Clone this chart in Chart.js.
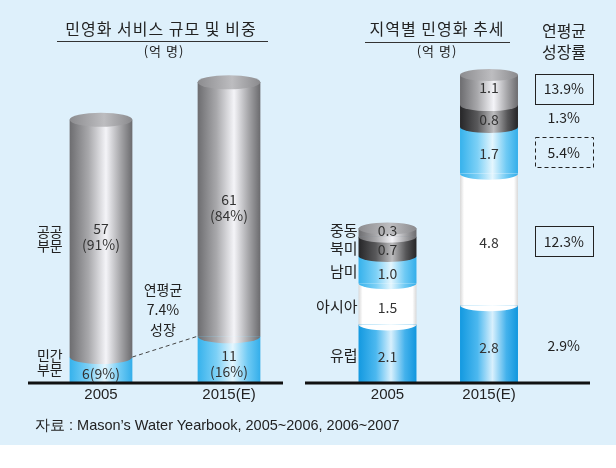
<!DOCTYPE html>
<html>
<head>
<meta charset="utf-8">
<script src="https://cdn.jsdelivr.net/npm/chart.js@4.4.1/dist/chart.umd.min.js"></script>
<style>
  body { margin: 0; background: #fff; }
  #wrap { position: relative; width: 616px; height: 445px; background: #def0fb; overflow: hidden; }
  canvas { position: absolute; top: 0; }
  #c1 { left: 0; }
  #c2 { left: 300px; }
  .t { position: absolute; font-family: "Noto Sans CJK KR", sans-serif; color: #222; text-align: center; white-space: nowrap; }
  .rule { position: absolute; height: 1px; background: #333; }
</style>
</head>
<body>
<div id="wrap">
  <canvas id="c1" width="300" height="445"></canvas>
  <canvas id="c2" width="316" height="445"></canvas>

  <div class="t" style="left:30px;top:18px;width:262px;font-size:16px;line-height:20px;letter-spacing:1px;">민영화 서비스 규모 및 비중</div>
  <div class="rule" style="left:57px;top:41px;width:211px;"></div>
  <div class="t" style="left:124px;top:42px;width:80px;font-size:13px;line-height:18px;letter-spacing:1px;">(억 명)</div>

  <div class="t" style="left:352px;top:18px;width:170px;font-size:16px;line-height:20px;letter-spacing:1px;">지역별 민영화 추세</div>
  <div class="rule" style="left:365px;top:42px;width:145px;"></div>
  <div class="t" style="left:397px;top:42px;width:80px;font-size:13px;line-height:18px;letter-spacing:1px;">(억 명)</div>

  <div class="t" style="left:524px;top:20px;width:80px;font-size:16px;line-height:21px;">연평균<br>성장률</div>

  <div class="t" style="left:123px;top:279px;width:80px;font-size:14px;line-height:20px;">연평균<br>7.4%<br>성장</div>

  <div class="t" style="left:35px;top:415px;text-align:left;font-family:'Liberation Sans',Arial,sans-serif;font-size:14.5px;line-height:20px;">자료 : Mason’s Water Yearbook, 2005~2006, 2006~2007</div>
</div>

<script>
// --- DATA --- //
// 민영화 서비스 규모 및 비중 (억 명)
const sizeYears = ["2005", "2015(E)"];
const privateValues = [6, 11];
const publicValues = [57, 61];
const privateShare = ["9%", "16%"];
const publicShare = ["91%", "84%"];

// 지역별 민영화 추세 (억 명)
const regionYears = ["2005", "2015(E)"];
const europe = [2.1, 2.8];
const asia = [1.5, 4.8];
const southAmerica = [1.0, 1.7];
const northAmerica = [0.7, 0.8];
const middleEast = [0.3, 1.1];
// 연평균 성장률, same order as the stack (bottom -> top)
const regionGrowth = ["2.9%", "12.3%", "5.4%", "1.3%", "13.9%"];
const regionGrowthBox = ["none", "solid", "dashed", "none", "solid"];

// --- COLOURS --- //
const palettes = {
  gray: [[0, "#6d6d70"], [0.3, "#a8a8ab"], [0.58, "#f4f4f8"], [0.82, "#a3a3a6"], [1, "#6b6b6e"]],
  lightBlue: [[0, "#36b2ec"], [0.3, "#7cd0f6"], [0.56, "#e4f6fe"], [0.8, "#6fcaf4"], [1, "#33aeea"]],
  blue: [[0, "#1399e0"], [0.3, "#4cb8ef"], [0.56, "#d8f0fd"], [0.8, "#44b2ec"], [1, "#1196de"]],
  dark: [[0, "#262628"], [0.3, "#59595b"], [0.58, "#bdbdbf"], [0.82, "#565658"], [1, "#242426"]],
  white: [[0, "#d8d8d8"], [0.07, "#ffffff"], [0.93, "#ffffff"], [1, "#d8d8d8"]],
  cap: [[0, "#8c8c8f"], [0.55, "#bdbdc0"], [1, "#8a8a8d"]],
};

function gradient(c, pal, x, hw) {
  const g = c.createLinearGradient(x - hw, 0, x + hw, 0);
  palettes[pal].forEach(([o, col]) => g.addColorStop(o, col));
  return g;
}

// scriptable fill: horizontal gradient across each bar
function barFill(pal) {
  return (ctx) => {
    const chart = ctx.chart;
    if (!chart.chartArea) return "#999";
    const x = chart.scales.x.getPixelForValue(ctx.dataIndex);
    const hw = (chart.chartArea.width / chart.data.labels.length) * chart.options.datasets.bar.barPercentage / 2;
    return gradient(chart.ctx, pal, x, hw);
  };
}

// --- PLUGINS --- //
// draws cylinder caps / segment arcs, the baseline and the in-bar values
const cylinders = {
  id: "cyl",
  afterDatasetsDraw(chart, args, opts) {
    const c = chart.ctx;
    const area = chart.chartArea;
    const sets = chart.data.datasets;
    const n = sets.length;

    chart.data.labels.forEach((lab, i) => {
      for (let d = 0; d < n; d++) {
        const el = chart.getDatasetMeta(d).data[i];
        const rx = el.width / 2;
        c.save();
        c.beginPath();
        if (d < n - 1) {
          c.ellipse(el.x, el.y, rx, opts.ry, 0, 0, Math.PI);
          c.fillStyle = gradient(c, sets[d + 1].pal, el.x, rx);
        } else {
          c.ellipse(el.x, el.y, rx, opts.ry, 0, 0, Math.PI * 2);
          c.fillStyle = gradient(c, "cap", el.x, rx);
        }
        c.fill();
        c.restore();
      }
    });

    // baseline
    c.save();
    c.strokeStyle = "#111";
    c.lineWidth = 3;
    c.beginPath();
    c.moveTo(area.left - opts.extLeft, area.bottom + 1);
    c.lineTo(area.right + opts.extRight, area.bottom + 1);
    c.stroke();
    c.restore();

    // values inside the bars
    c.save();
    c.fillStyle = "#333";
    c.textAlign = "center";
    c.textBaseline = "middle";
    c.font = '14px "Noto Sans CJK KR"';
    chart.data.labels.forEach((lab, i) => {
      for (let d = 0; d < n; d++) {
        const el = chart.getDatasetMeta(d).data[i];
        const mid = (el.y + el.base) / 2 + (d === n - 1 ? -2 : opts.ry * 0.6);
        const v = sets[d].data[i];
        const text = sets[d].share
          ? (el.base - el.y < 35 ? [v + "(" + sets[d].share[i] + ")"] : [String(v), "(" + sets[d].share[i] + ")"])
          : [v.toFixed(1)];
        text.forEach((t, k) => c.fillText(t, el.x, mid + (k - (text.length - 1) / 2) * 16));
      }
    });
    c.restore();
  },
};

// left chart extras: side labels and growth dashed line
const sizeExtras = {
  id: "sizeExtras",
  afterDraw(chart) {
    const c = chart.ctx;
    const area = chart.chartArea;
    c.save();
    c.fillStyle = "#222";
    c.textAlign = "right";
    c.textBaseline = "middle";
    c.font = '14px "Noto Sans CJK KR"';
    chart.data.datasets.forEach((ds, d) => {
      const el = chart.getDatasetMeta(d).data[0];
      const mid = Math.min((el.y + el.base) / 2, area.bottom - 19);
      const words = ds.label.split(" ");
      c.fillText(words[0], el.x - el.width / 2 - 7, mid - 7);
      c.fillText(words[1], el.x - el.width / 2 - 7, mid + 7);
    });
    // dashed line between private tops
    const a = chart.getDatasetMeta(0).data[0];
    const b = chart.getDatasetMeta(0).data[1];
    c.strokeStyle = "#444";
    c.lineWidth = 1;
    c.setLineDash([4, 3]);
    c.beginPath();
    c.moveTo(a.x + a.width / 2, a.y);
    c.lineTo(b.x - b.width / 2, b.y);
    c.stroke();
    c.restore();
  },
};

// right chart extras: region names and growth rates
const regionExtras = {
  id: "regionExtras",
  afterDraw(chart) {
    const c = chart.ctx;
    const area = chart.chartArea;
    const n = chart.data.datasets.length;
    c.save();
    c.fillStyle = "#222";
    c.textBaseline = "middle";
    chart.data.datasets.forEach((ds, d) => {
      const a = chart.getDatasetMeta(d).data[0];
      const b = chart.getDatasetMeta(d).data[1];
      c.textAlign = "right";
      c.font = '15px "Noto Sans CJK KR"';
      c.fillText(ds.label, a.x - a.width / 2 - 1, (a.y + a.base) / 2 + (d === n - 1 ? -2 : 2));

      const gx = area.right + 24;
      const gy = (b.y + b.base) / 2 + (d === n - 1 ? -1 : 2);
      c.textAlign = "center";
      c.font = '14px "Noto Sans CJK KR"';
      c.fillText(regionGrowth[d], gx, gy);
      if (regionGrowthBox[d] !== "none") {
        c.strokeStyle = "#222";
        c.lineWidth = 1;
        c.setLineDash(regionGrowthBox[d] === "dashed" ? [4, 3] : []);
        c.strokeRect(Math.round(gx - 29) + 0.5, Math.round(gy - 15) + 0.5, 58, 30);
      }
    });
    c.restore();
  },
};

const tickFont = { family: "'Liberation Sans', Arial, sans-serif", size: 15 };

// --- LEFT CHART --- //
new Chart(document.getElementById("c1"), {
  type: "bar",
  data: {
    labels: sizeYears,
    datasets: [
      { label: "민간 부문", data: privateValues, share: privateShare, pal: "lightBlue", backgroundColor: barFill("lightBlue") },
      { label: "공공 부문", data: publicValues, share: publicShare, pal: "gray", backgroundColor: barFill("gray") },
    ],
  },
  options: {
    responsive: false,
    animation: false,
    layout: { padding: { left: 37, right: 7, top: 49, bottom: 37 } },
    datasets: { bar: { categoryPercentage: 1, barPercentage: 0.49 } },
    scales: {
      x: {
        stacked: true,
        grid: { display: false, drawTicks: false },
        border: { display: false },
        ticks: { color: "#222", font: tickFont, padding: 4 },
      },
      y: { stacked: true, display: false, min: 0, max: 80 },
    },
    plugins: {
      legend: { display: false },
      tooltip: { enabled: false },
      cyl: { ry: 7, extLeft: 9, extRight: -10 },
    },
  },
  plugins: [cylinders, sizeExtras],
});

// --- RIGHT CHART --- //
new Chart(document.getElementById("c2"), {
  type: "bar",
  data: {
    labels: regionYears,
    datasets: [
      { label: "유럽", data: europe, pal: "blue", backgroundColor: barFill("blue") },
      { label: "아시아", data: asia, pal: "white", backgroundColor: barFill("white") },
      { label: "남미", data: southAmerica, pal: "lightBlue", backgroundColor: barFill("lightBlue") },
      { label: "북미", data: northAmerica, pal: "dark", backgroundColor: barFill("dark") },
      { label: "중동", data: middleEast, pal: "gray", backgroundColor: barFill("gray") },
    ],
  },
  options: {
    responsive: false,
    animation: false,
    layout: { padding: { left: 36.75, right: 76.25, top: 53, bottom: 37 } },
    datasets: { bar: { categoryPercentage: 1, barPercentage: 0.571 } },
    scales: {
      x: {
        stacked: true,
        grid: { display: false, drawTicks: false },
        border: { display: false },
        ticks: { color: "#222", font: tickFont, padding: 4 },
      },
      y: { stacked: true, display: false, min: 0, max: 12 },
    },
    plugins: {
      legend: { display: false },
      tooltip: { enabled: false },
      cyl: { ry: 6, extLeft: 31.75, extRight: 50.25 },
    },
  },
  plugins: [cylinders, regionExtras],
});
</script>
</body>
</html>
